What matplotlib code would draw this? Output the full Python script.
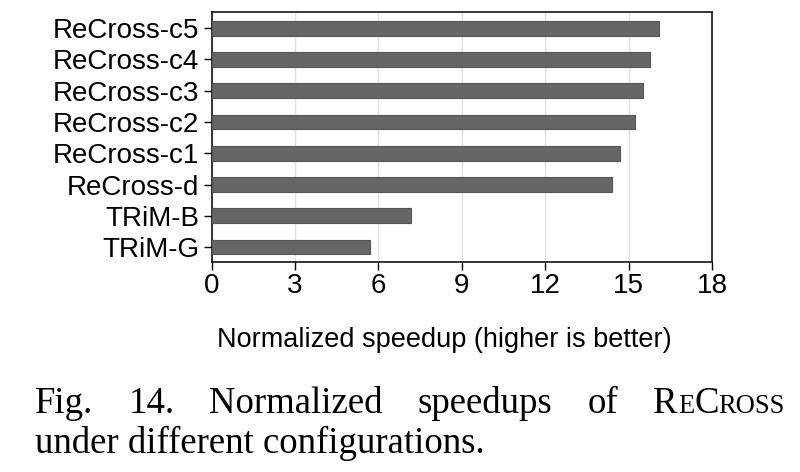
import matplotlib
matplotlib.use('Agg')
import matplotlib.pyplot as plt

configs = ['TRiM-G', 'TRiM-B', 'ReCross-d', 'ReCross-c1', 'ReCross-c2',
           'ReCross-c3', 'ReCross-c4', 'ReCross-c5']
speedups = [5.69, 7.17, 14.42, 14.70, 15.22, 15.50, 15.77, 16.09]
xticks = [0, 3, 6, 9, 12, 15, 18]

plt.rcParams['font.family'] = 'Liberation Sans'

W, H = 800, 472
fig = plt.figure(figsize=(W / 100, H / 100), dpi=100)
ax = fig.add_axes([211.7 / W, 1 - 261.7 / H, (712 - 211.7) / W, (261.7 - 12.3) / H])

ax.barh(range(len(configs)), speedups, height=0.47, color='#666666',
        edgecolor='#555555', linewidth=0.8, zorder=3)
ax.set_yticks(range(len(configs)))
ax.set_yticklabels(configs, fontsize=20)
ax.set_ylim(-0.47, 7.51)
ax.set_xlim(0, 18)
ax.set_xticks(xticks)
ax.set_xticklabels([str(t) for t in xticks], fontsize=20)
ax.grid(axis='x', color='#e2e2e2', linewidth=1, zorder=0)
ax.tick_params(axis='both', direction='out', length=6, width=1, colors='black')
ax.tick_params(axis='x', pad=2)
ax.tick_params(axis='y', pad=3)
for s in ax.spines.values():
    s.set_linewidth(1.1)

ax.set_xlabel('Normalized speedup (higher is better)', fontsize=19.5, va='baseline')
ax.xaxis.set_label_coords((444 - 211.7) / (712 - 211.7), (261.7 - 346.7) / (261.7 - 12.3))

# caption: justified first line, small caps for ReCross
fig.canvas.draw()
renderer = fig.canvas.get_renderer()

big = 26.5
small = big * 0.72


def put(x, y, s, size):
    t = fig.text(x / W, 1 - y / H, s, fontsize=size, family='Liberation Serif',
                 ha='left', va='baseline')
    bb = t.get_window_extent(renderer=renderer)
    return t, bb.width


base1, base2 = 413, 453
left, right = 35, 785
sc_word = [('R', big), ('E', small), ('C', big), ('ROSS', small)]

words = ['Fig.', '14.', 'Normalized', 'speedups', 'of']
widths = []
for w in words:
    t, wd = put(0, base1, w, big)
    t.remove()
    widths.append(wd)
sc_width = 0
for piece, size in sc_word:
    t, wd = put(0, base1, piece, size)
    t.remove()
    sc_width += wd
gap = (right - left - sum(widths) - sc_width) / len(words)

x = left
for w, wd in zip(words, widths):
    put(x, base1, w, big)
    x += wd + gap
for piece, size in sc_word:
    t, wd = put(x, base1, piece, size)
    x += wd

put(left, base2, 'under different configurations.', big)

fig.savefig('out.png', dpi=100)
